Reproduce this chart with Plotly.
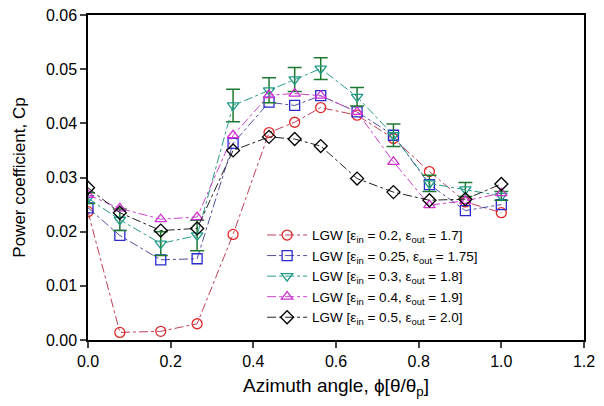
import plotly.graph_objects as go

phi = [0.0, 0.077, 0.176, 0.264, 0.351, 0.438, 0.5, 0.563, 0.651, 0.739, 0.826, 0.913, 1.0]

cp_02 = [0.0237, 0.0014, 0.0016, 0.0030, 0.0195, 0.0383, 0.0402, 0.0429, 0.0415, 0.0372, 0.0311, 0.0255, 0.0235]
cp_025 = [0.0244, 0.0193, 0.0148, 0.0150, 0.0363, 0.0439, 0.0433, 0.0451, 0.0421, 0.0378, 0.0287, 0.0239, 0.0250]
cp_03 = [0.0262, 0.0222, 0.0178, 0.0193, 0.0433, 0.0461, 0.0481, 0.0501, 0.0449, 0.0378, 0.0289, 0.0278, 0.0266]
cp_03_err = [0.0010, 0.0020, 0.0022, 0.0028, 0.0030, 0.0023, 0.0022, 0.0020, 0.0017, 0.0021, 0.0015, 0.0013, 0.0008]
cp_04 = [0.0268, 0.0243, 0.0223, 0.0227, 0.0378, 0.0452, 0.0455, 0.0451, 0.0421, 0.0329, 0.0249, 0.0257, 0.0271]
cp_05 = [0.0281, 0.0235, 0.0202, 0.0206, 0.0350, 0.0375, 0.0371, 0.0358, 0.0298, 0.0273, 0.0258, 0.0260, 0.0288]

names = [
    "LGW [ε<sub>in</sub> = 0.2, ε<sub>out</sub> = 1.7]",
    "LGW [ε<sub>in</sub> = 0.25, ε<sub>out</sub> = 1.75]",
    "LGW [ε<sub>in</sub> = 0.3, ε<sub>out</sub> = 1.8]",
    "LGW [ε<sub>in</sub> = 0.4, ε<sub>out</sub> = 1.9]",
    "LGW [ε<sub>in</sub> = 0.5, ε<sub>out</sub> = 2.0]",
]

x_ticks = [0.0, 0.2, 0.4, 0.6, 0.8, 1.0, 1.2]
y_ticks = [0.00, 0.01, 0.02, 0.03, 0.04, 0.05, 0.06]

fig = go.Figure()

styles = [
    (cp_02, "#c04058", "#e02828", "circle-open"),
    (cp_025, "#5050a0", "#2a2ad0", "square-open"),
    (cp_03, "#2a9a8a", "#1f9a8a", "triangle-down-open"),
    (cp_04, "#cc44cc", "#d030d0", "triangle-up-open"),
    (cp_05, "#222222", "#000000", "diamond-open"),
]

for i, (ys, lc, mc, sym) in enumerate(styles):
    kw = {}
    if i == 2:
        kw["error_y"] = dict(type="data", array=cp_03_err, visible=True,
                             color="#1e7a30", thickness=1.5, width=7)
    fig.add_trace(go.Scatter(
        x=phi, y=ys, name=names[i], mode="lines+markers",
        line=dict(color=lc, width=1, dash="dashdot"),
        marker=dict(symbol=sym, size=10, color=mc, line=dict(color=mc, width=1.3)),
        **kw,
    ))

fig.update_layout(
    width=604, height=406,
    margin=dict(l=88, r=20, t=15, b=66, autoexpand=False),
    paper_bgcolor="white", plot_bgcolor="white",
    font=dict(family="Liberation Sans, Arial, sans-serif", color="black", size=16),
    showlegend=True,
    legend=dict(x=0.351, y=0.37, xanchor="left", yanchor="top",
                bgcolor="rgba(0,0,0,0)", font=dict(size=13.5),
                tracegroupgap=0, itemwidth=40),
    xaxis=dict(range=[0, 1.2], tickvals=x_ticks, ticktext=[f"{v:.1f}" for v in x_ticks],
               ticks="outside", ticklen=6, tickwidth=1.5, showline=True, linecolor="black",
               linewidth=1.5, mirror=True, showgrid=False, zeroline=False,
               title=dict(text="Azimuth angle, ϕ[θ/θ<sub>p</sub>]", font=dict(size=19), standoff=10)),
    yaxis=dict(range=[0, 0.06], tickvals=y_ticks, ticktext=[f"{v:.2f}" for v in y_ticks],
               ticks="outside", ticklen=6, tickwidth=1.5, showline=True, linecolor="black",
               linewidth=1.5, mirror=True, showgrid=False, zeroline=False,
               title=dict(text="Power coefficient, Cp", font=dict(size=17), standoff=16)),
)

fig.write_html("out.html")
